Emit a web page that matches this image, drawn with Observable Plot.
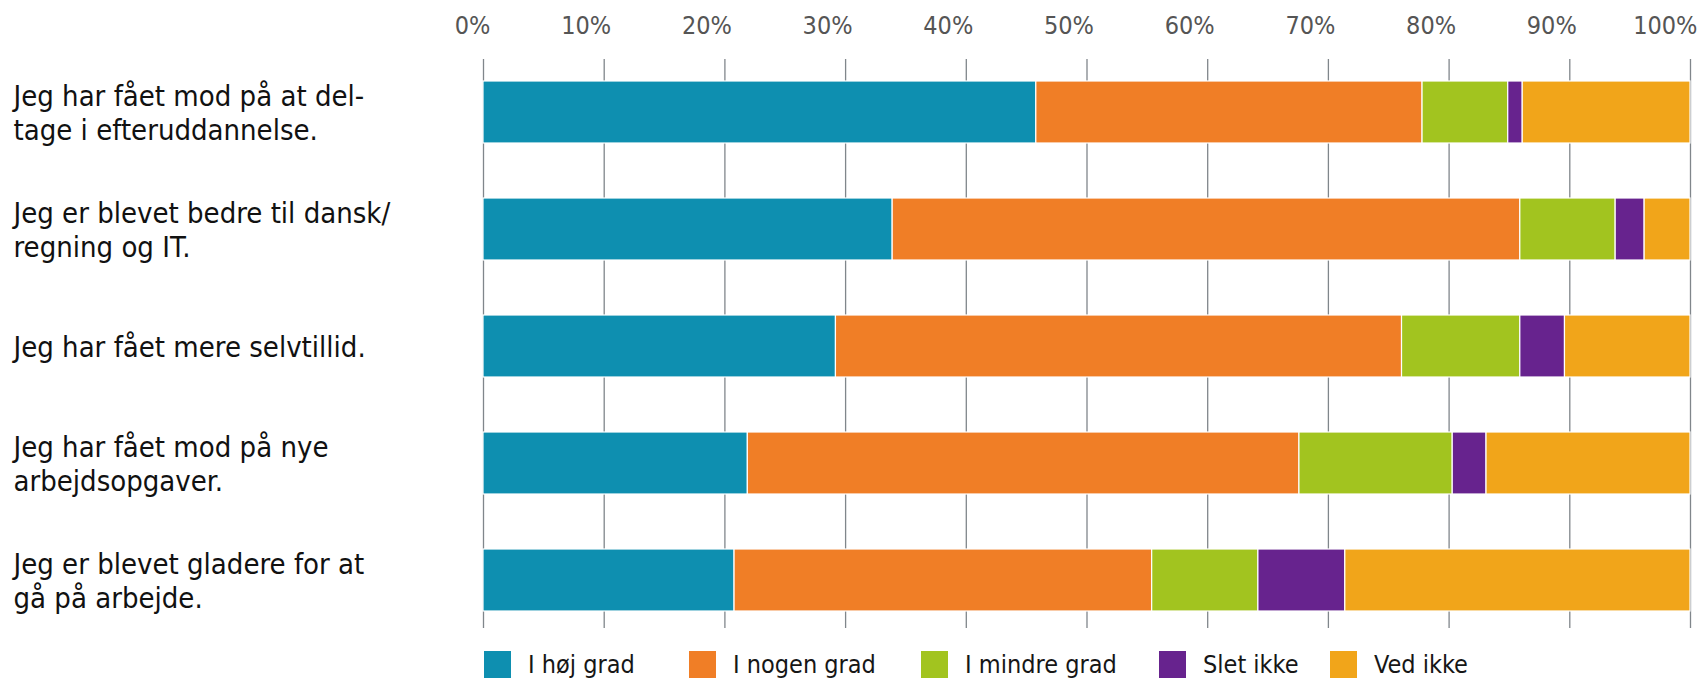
<!DOCTYPE html>
<html>
<head>
<meta charset="utf-8">
<script src="https://cdn.jsdelivr.net/npm/d3@7"></script>
<script src="https://cdn.jsdelivr.net/npm/@observablehq/plot@0.6"></script>
<style>
  html, body { margin: 0; padding: 0; background: #fff; }
  #chart svg { display: block; }
  #legend {
    display: flex; align-items: center;
    padding-left: 484px; margin-top: 11px; height: 27px;
    font-family: "DejaVu Sans Condensed", "Liberation Sans", sans-serif;
    font-size: 25px; color: #161616;
  }
  .item { display: flex; align-items: center; flex: none; }
  .sw { width: 27px; height: 27px; margin-right: 17px; flex: none; }
</style>
</head>
<body>
<div id="chart"></div>
<div id="legend"></div>
<script>
const categories = [
  "Jeg har fået mod på at del-\ntage i efteruddannelse.",
  "Jeg er blevet bedre til dansk/\nregning og IT.",
  "Jeg har fået mere selvtillid.",
  "Jeg har fået mod på nye\narbejdsopgaver.",
  "Jeg er blevet gladere for at\ngå på arbejde."
];
const seriesNames = ["I høj grad", "I nogen grad", "I mindre grad", "Slet ikke", "Ved ikke"];
const hoejGrad   = [45.8, 33.9, 29.2, 21.9, 20.8];
const nogenGrad  = [32.0, 52.0, 46.9, 45.7, 34.6];
const mindreGrad = [7.1, 7.9, 9.8, 12.7, 8.8];
const sletIkke   = [1.2, 2.4, 3.7, 2.8, 7.2];
const vedIkke    = [13.9, 3.8, 10.4, 16.9, 28.6];
const colors = ["#0e8fb0", "#f07e26", "#a2c41f", "#67238e", "#f1a51a"];
const xTicks = [0, 10, 20, 30, 40, 50, 60, 70, 80, 90, 100];
const legendWidths = [205, 232, 238, 171, 200];

const seriesValues = [hoejGrad, nogenGrad, mindreGrad, sletIkke, vedIkke];
const rows = [];
categories.forEach((c, i) => {
  seriesNames.forEach((s, j) => rows.push({cat: c, series: s, value: seriesValues[j][i]}));
});

const narrow = "'DejaVu Sans Condensed', 'Liberation Sans', sans-serif";
const marginLeft = 483;

const chart = Plot.plot({
  width: 1698,
  height: 640,
  marginLeft: marginLeft,
  marginRight: 8,
  marginTop: 59,
  marginBottom: 12,
  style: {fontFamily: narrow, background: "#fff"},
  x: {domain: [0, 100], axis: null},
  y: {domain: categories, paddingInner: 0.467, paddingOuter: 0.1485, align: 0.58, axis: null},
  color: {domain: seriesNames, range: colors},
  marks: [
    Plot.ruleX(xTicks, {stroke: "#80868b", strokeWidth: 1.3}),
    Plot.barX(rows, Plot.stackX({x: "value", y: "cat", fill: "series", stroke: "white", strokeWidth: 1.2})),
    Plot.axisX({
      anchor: "top", ticks: xTicks, tickSize: 0, tickPadding: 26, label: null,
      tickFormat: d => d + "%", textAnchor: "end", dx: 7,
      fontSize: 25, fill: "#555", fontFamily: narrow
    }),
    Plot.text(categories, {
      y: d => d, text: d => d, frameAnchor: "left", textAnchor: "start",
      dx: -(marginLeft - 13), fontSize: 29, lineHeight: 1.17, fill: "#111"
    })
  ]
});
document.getElementById("chart").append(chart);

const legend = document.getElementById("legend");
seriesNames.forEach((s, j) => {
  const item = document.createElement("div");
  item.className = "item";
  item.style.width = legendWidths[j] + "px";
  const sw = document.createElement("div");
  sw.className = "sw";
  sw.style.background = colors[j];
  const label = document.createElement("span");
  label.textContent = s;
  item.append(sw, label);
  legend.append(item);
});
</script>
</body>
</html>
